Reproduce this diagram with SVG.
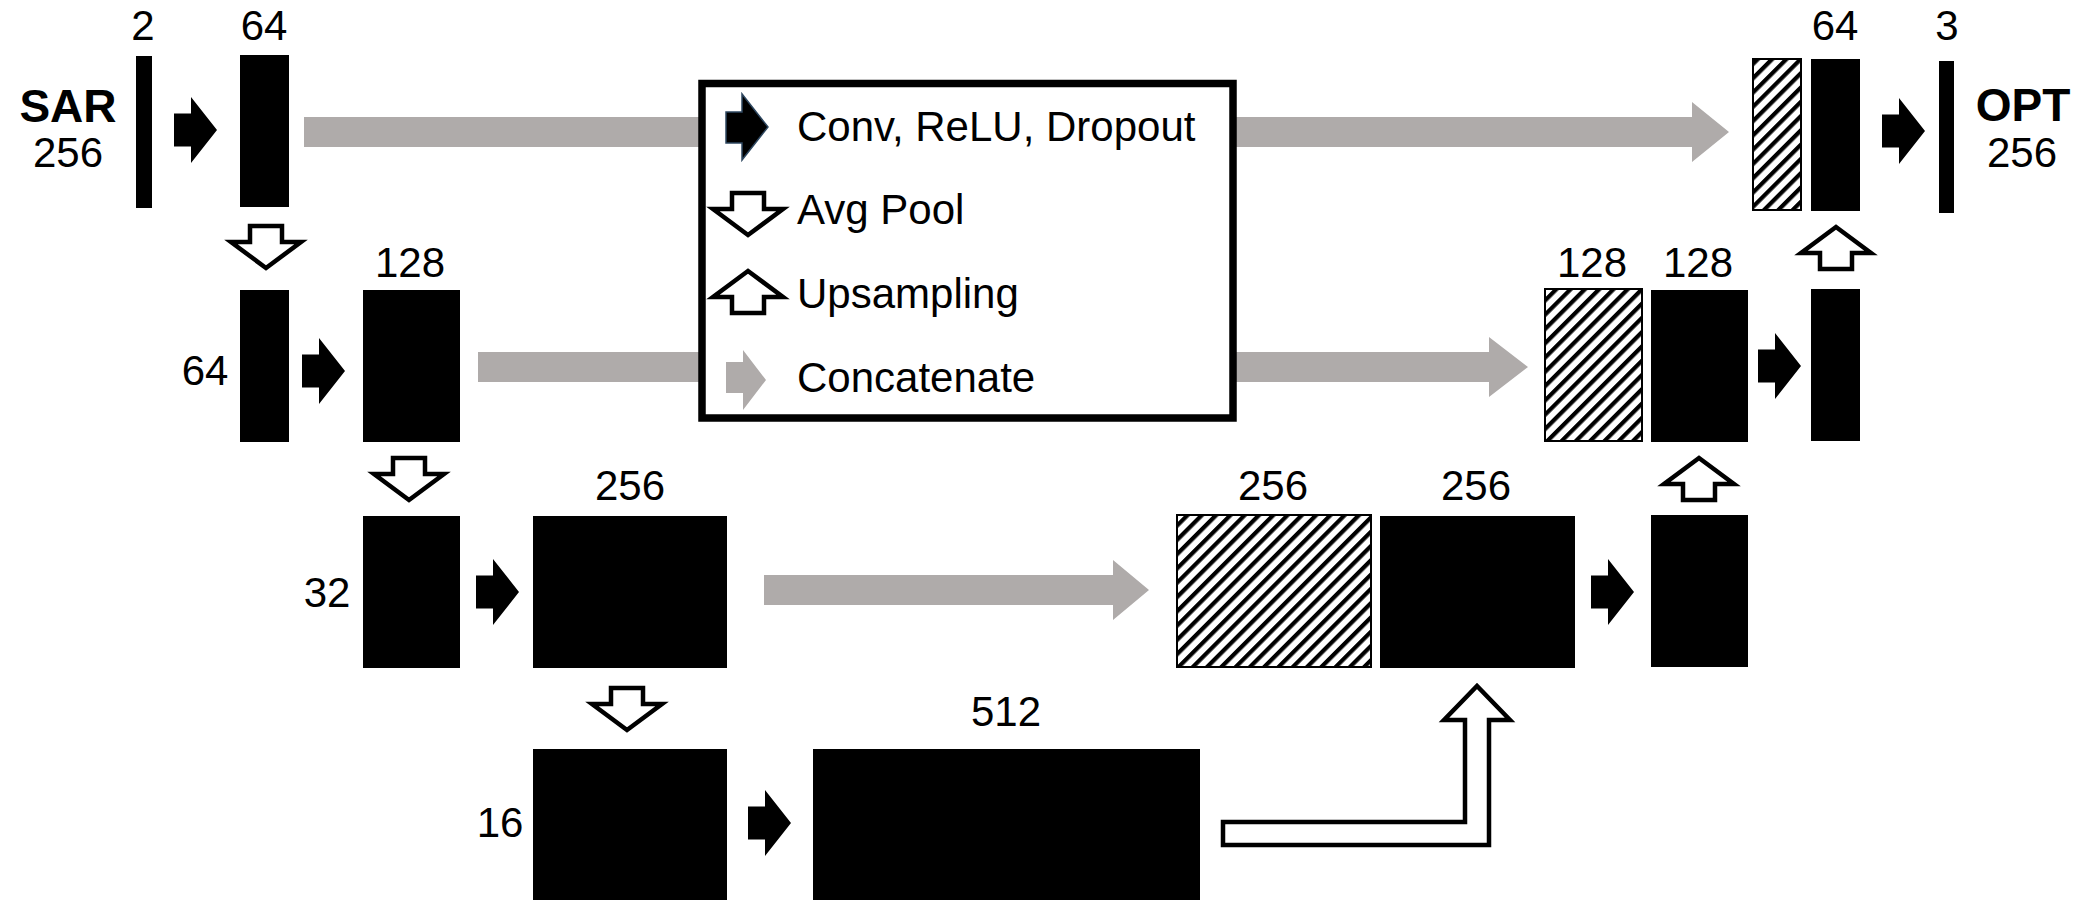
<svg xmlns="http://www.w3.org/2000/svg" xmlns:xlink="http://www.w3.org/1999/xlink" width="2090" height="900" viewBox="0 0 2090 900">
<style>
.blk{fill:#000}
.hat{fill:url(#hatch);stroke:#000;stroke-width:2}
.lbl{font-family:"Liberation Sans",Arial,sans-serif;font-size:42px;fill:#000;text-anchor:middle}
.big{font-family:"Liberation Sans",Arial,sans-serif;font-size:46px;font-weight:bold;fill:#000;text-anchor:middle}
.leg{font-family:"Liberation Sans",Arial,sans-serif;font-size:42px;fill:#000}
.conv{fill:#000}
.pool{fill:#fff;stroke:#000;stroke-width:4.5;stroke-linejoin:miter}
.cat{fill:#afabaa}
</style>
<defs>
<pattern id="hatch" patternUnits="userSpaceOnUse" width="10.1" height="10.1" patternTransform="rotate(45)">
<rect x="0" y="0" width="10.1" height="10.1" fill="#fff"/>
<rect x="0" y="0" width="4.2" height="10.1" fill="#000"/>
</pattern>
<path id="convA" d="M0,-16.5 L17,-16.5 L17,-33 L43,0 L17,33 L17,16.5 L0,16.5 Z"/>
<path id="downA" d="M-16,0 L16,0 L16,16 L35,16 L0,42 L-35,16 L-16,16 Z"/>
<path id="upA" d="M-16,0 L16,0 L16,-16 L35,-16 L0,-42 L-35,-16 L-16,-16 Z"/>
</defs>
<rect x="0" y="0" width="2090" height="900" fill="#fff"/>

<g id="connectors">
<path class="cat" d="M304,117 L1692,117 L1692,102 L1729,132 L1692,162 L1692,147 L304,147 Z"/>
<path class="cat" d="M478,352 L1489,352 L1489,337 L1528,367 L1489,397 L1489,382 L478,382 Z"/>
<path class="cat" d="M764,575 L1113,575 L1113,560 L1149,590 L1113,620 L1113,605 L764,605 Z"/>
<use href="#convA" class="conv" x="174" y="130"/>
<use href="#convA" class="conv" x="302" y="371"/>
<use href="#convA" class="conv" x="476" y="592"/>
<use href="#convA" class="conv" x="748" y="823"/>
<use href="#convA" class="conv" x="1882" y="131"/>
<use href="#convA" class="conv" x="1758" y="366"/>
<use href="#convA" class="conv" x="1591" y="592"/>
<use href="#downA" class="pool" x="266" y="226"/>
<use href="#downA" class="pool" x="409" y="458"/>
<use href="#downA" class="pool" x="627" y="688"/>
<use href="#upA" class="pool" x="1836" y="269"/>
<use href="#upA" class="pool" x="1699" y="500"/>
<path class="pool" d="M1223,822 L1465,822 L1465,720 L1444,720 L1477,686 L1510,720 L1489,720 L1489,845 L1223,845 Z"/>
</g>

<g id="sar-input">
<rect class="blk" x="136" y="56" width="16" height="152"/>
<text class="lbl" x="143" y="40">2</text>
<text class="big" x="68" y="122">SAR</text>
<text class="lbl" x="68" y="167">256</text>
</g>
<g id="enc1">
<rect class="blk" x="240" y="55" width="49" height="152"/>
<text class="lbl" x="264" y="40">64</text>
</g>
<g id="enc2-in">
<rect class="blk" x="240" y="290" width="49" height="152"/>
<text class="lbl" x="205" y="385">64</text>
</g>
<g id="enc2">
<rect class="blk" x="363" y="290" width="97" height="152"/>
<text class="lbl" x="410" y="277">128</text>
</g>
<g id="enc3-in">
<rect class="blk" x="363" y="516" width="97" height="152"/>
<text class="lbl" x="327" y="607">32</text>
</g>
<g id="enc3">
<rect class="blk" x="533" y="516" width="194" height="152"/>
<text class="lbl" x="630" y="500">256</text>
</g>
<g id="enc4-in">
<rect class="blk" x="533" y="749" width="194" height="151"/>
<text class="lbl" x="500" y="837">16</text>
</g>
<g id="bottleneck">
<rect class="blk" x="813" y="749" width="387" height="151"/>
<text class="lbl" x="1006" y="726">512</text>
</g>
<g id="dec3-skip">
<rect class="hat" x="1177" y="515" width="194" height="152"/>
<text class="lbl" x="1273" y="500">256</text>
</g>
<g id="dec3">
<rect class="blk" x="1380" y="516" width="195" height="152"/>
<text class="lbl" x="1476" y="500">256</text>
</g>
<g id="dec3-out">
<rect class="blk" x="1651" y="515" width="97" height="152"/>
</g>
<g id="dec2-skip">
<rect class="hat" x="1545" y="289" width="97" height="152"/>
<text class="lbl" x="1592" y="277">128</text>
</g>
<g id="dec2">
<rect class="blk" x="1651" y="290" width="97" height="152"/>
<text class="lbl" x="1698" y="277">128</text>
</g>
<g id="dec2-out">
<rect class="blk" x="1811" y="289" width="49" height="152"/>
</g>
<g id="dec1-skip">
<rect class="hat" x="1753" y="59" width="48" height="151"/>
</g>
<g id="dec1">
<rect class="blk" x="1811" y="59" width="49" height="152"/>
<text class="lbl" x="1835" y="40">64</text>
</g>
<g id="opt-output">
<rect class="blk" x="1939" y="61" width="15" height="152"/>
<text class="lbl" x="1947" y="40">3</text>
<text class="big" x="2023" y="121">OPT</text>
<text class="lbl" x="2022" y="167">256</text>
</g>

<g id="legend">
<rect x="702" y="83.5" width="531" height="334.5" fill="#fff" stroke="#000" stroke-width="7.5"/>
<path d="M726,112 L742,112 L742,94 L768,127 L742,160 L742,143 L726,143 Z" fill="#000" stroke="#2e4760" stroke-width="1.5"/>
<text class="leg" x="797" y="141">Conv, ReLU, Dropout</text>
<use href="#downA" class="pool" x="748" y="193"/>
<text class="leg" x="797" y="224">Avg Pool</text>
<use href="#upA" class="pool" x="748" y="313"/>
<text class="leg" x="797" y="308">Upsampling</text>
<path class="cat" d="M726,362 L743,362 L743,350 L766,380 L743,410 L743,393 L726,393 Z"/>
<text class="leg" x="797" y="392">Concatenate</text>
</g>
</svg>
